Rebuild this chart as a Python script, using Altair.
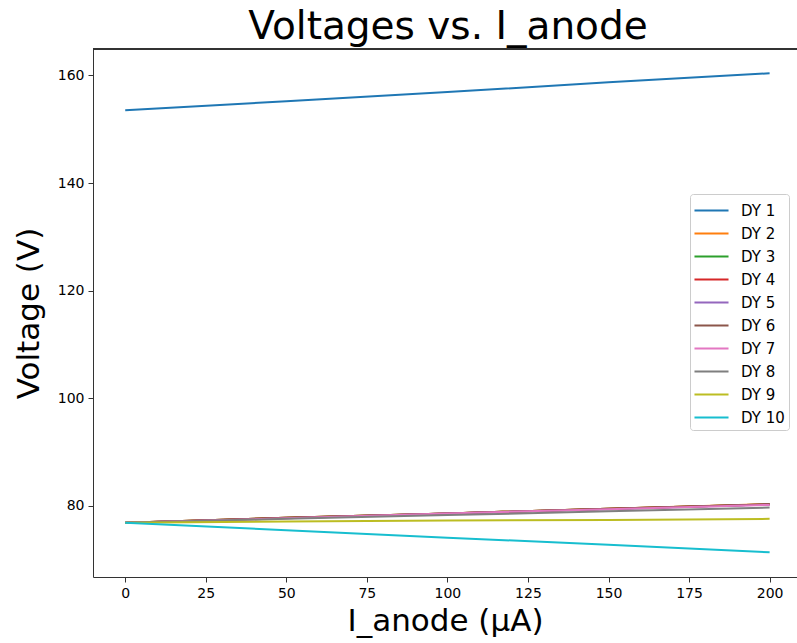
import altair as alt
import pandas as pd

# Anode current steps (µA)
i_anode = [0, 50, 100, 150, 200]

# Dynode voltages (V) at each anode current step
dy1 = [153.5, 155.2, 156.9, 158.7, 160.4]
dy2 = [76.9, 77.8, 78.6, 79.5, 80.35]
dy3 = [76.9, 77.8, 78.6, 79.5, 80.3]
dy4 = [76.9, 77.8, 78.6, 79.5, 80.3]
dy5 = [76.9, 77.7, 78.6, 79.4, 80.25]
dy6 = [76.9, 77.8, 78.6, 79.5, 80.3]
dy7 = [76.9, 77.7, 78.6, 79.4, 80.2]
dy8 = [76.9, 77.6, 78.3, 79.0, 79.7]
dy9 = [76.9, 77.1, 77.3, 77.4, 77.6]
dy10 = [76.9, 75.5, 74.1, 72.8, 71.4]

names = ["DY 1", "DY 2", "DY 3", "DY 4", "DY 5", "DY 6", "DY 7", "DY 8", "DY 9", "DY 10"]
series = [dy1, dy2, dy3, dy4, dy5, dy6, dy7, dy8, dy9, dy10]
palette = ["#1f77b4", "#ff7f0e", "#2ca02c", "#d62728", "#9467bd",
           "#8c564b", "#e377c2", "#7f7f7f", "#bcbd22", "#17becf"]

rows = []
for k, (name, vals) in enumerate(zip(names, series)):
    for x, v in zip(i_anode, vals):
        rows.append({"I_anode": x, "Voltage": v, "Dynode": name, "order": k})
df = pd.DataFrame(rows)

W, H = 704, 528
FONT = "DejaVu Sans"

# wide, flat legend swatch drawn as a custom path
SWATCH = "M-1.48,0H1.48"

lines = alt.Chart(df).mark_line(strokeWidth=2).encode(
    x=alt.X("I_anode:Q",
            scale=alt.Scale(domain=[-10, 208.5], nice=False, zero=False),
            axis=alt.Axis(title="I_anode (µA)", values=[0, 25, 50, 75, 100, 125, 150, 175, 200])),
    y=alt.Y("Voltage:Q",
            scale=alt.Scale(domain=[66.8, 164.9], nice=False, zero=False),
            axis=alt.Axis(title="Voltage (V)", values=[80, 100, 120, 140, 160])),
    color=alt.Color("Dynode:N",
                    scale=alt.Scale(domain=names, range=palette),
                    sort=names,
                    legend=alt.Legend(title=None, orient="none", legendX=597, legendY=145,
                                      symbolType=SWATCH, symbolSize=529,
                                      symbolStrokeWidth=2, symbolOffset=5,
                                      labelFontSize=15,
                                      labelFont=FONT, labelColor="#000000",
                                      labelOffset=17, rowPadding=2,
                                      padding=4, strokeColor="#cccccc",
                                      fillColor="white", cornerRadius=3)),
    order=alt.Order("order:Q"),
    detail="order:N",
)

# top spine of the frame
top_spine = alt.Chart(df).mark_rule(color="#333333", strokeWidth=1).encode(
    x=alt.value(0), x2=alt.value(W), y=alt.value(0)
)

chart = alt.layer(lines, top_spine).properties(
    width=W, height=H,
    title=alt.TitleParams("Voltages vs. I_anode", font=FONT, fontSize=39,
                          fontWeight="normal", color="#000000",
                          anchor="middle", offset=2, dx=3),
    autosize=alt.AutoSizeParams(type="none"),
    padding={"left": 93, "top": 49, "right": 0, "bottom": 66},
).configure_view(stroke=None).configure_axis(
    grid=False,
    domainColor="#333333", domainWidth=1,
    tickColor="#333333", tickSize=5, tickWidth=1,
    labelFont=FONT, labelFontSize=14, labelColor="#000000", labelPadding=4,
    titleFont=FONT, titleFontSize=31, titleFontWeight="normal", titleColor="#000000",
).configure_axisX(labelAngle=0, titlePadding=6).configure_axisY(titlePadding=12)

chart.save("out.html", embed_options={"renderer": "svg", "actions": False})
